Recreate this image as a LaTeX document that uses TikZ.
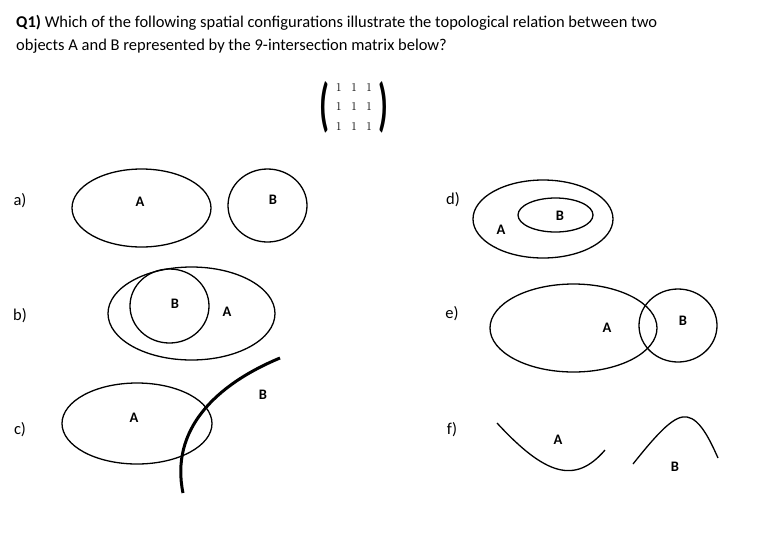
\documentclass[tikz,border=0pt]{standalone}
\usepackage{fontspec}
\usepackage{graphicx}
\setmainfont{Carlito}
\tikzset{
  region/.style={line width=1.3pt},
  tag/.style={font=\fontsize{16.5}{19}\selectfont},
  objname/.style={font=\fontsize{14.5}{16}\selectfont\bfseries},
}
\newcommand{\bigparen}[1]{\vcenter{\hbox{\fontsize{14.5}{16}\selectfont\bfseries\scalebox{2.2}[4]{#1}}}}
\begin{document}
\begin{tikzpicture}[x=1pt,y=-1pt]
  \useasboundingbox (0,0) rectangle (757,547);

  \node [anchor=base west,align=left,inner sep=0pt,
    font=\fontsize{16.5}{23}\selectfont] (question) at (16,50.7)
    {\textbf{Q1)} Which of the following spatial configurations illustrate the topological relation between two\\
     objects A and B represented by the 9-intersection matrix below?};

  \node [inner sep=0pt] (matrix) at (354,107)
    {\fontsize{12}{19.5}\selectfont\setlength{\arraycolsep}{4.6pt}%
     $\bigparen{(}\hspace{2pt}\begin{array}{ccc}1&1&1\\1&1&1\\1&1&1\end{array}\hspace{2pt}\bigparen{)}$};

  % a) disjoint
  \node [tag] (tag a) at (20,201) {a)};
  \draw [region] (141.5,208) ellipse [x radius=69.5, y radius=39];
  \draw [region] (267.5,205.5) ellipse [x radius=39.5, y radius=36.5];
  \node [objname] (a A) at (140,202) {A};
  \node [objname] (a B) at (273,200) {B};

  % b) inside, touching
  \node [tag] (tag b) at (20,316) {b)};
  \draw [region] (191.5,313.5) ellipse [x radius=83.5, y radius=46.5];
  \draw [region] (169.5,306) ellipse [x radius=39.5, y radius=37];
  \node [objname] (b B) at (175,304) {B};
  \node [objname] (b A) at (227,312) {A};

  % c) region and line
  \node [tag] (tag c) at (20,430) {c)};
  \draw [region] (137,423.5) ellipse [x radius=75, y radius=40.5];
  \draw [line width=3pt]
    (280,358)
    .. controls (215,385) and (170,430) .. (183,493)
  ;
  \node [objname] (c A) at (134,418) {A};
  \node [objname] (c B) at (263,395) {B};

  % d) contains
  \node [tag] (tag d) at (453,200) {d)};
  \draw [region] (543,219) ellipse [x radius=70, y radius=39];
  \draw [region] (555.5,215) ellipse [x radius=37.5, y radius=17];
  \node [objname] (d B) at (560,216) {B};
  \node [objname] (d A) at (501,230) {A};

  % e) overlap
  \node [tag] (tag e) at (452,314) {e)};
  \draw [region] (573.5,328) ellipse [x radius=83.5, y radius=44];
  \draw [region] (678,325.5) ellipse [x radius=39, y radius=36.5];
  \node [objname] (e A) at (607,328) {A};
  \node [objname] (e B) at (683,321) {B};

  % f) two lines
  \node [tag] (tag f) at (452,430) {f)};
  \draw [region]
    (497,423)
    .. controls (545,475) and (575,485) .. (605,450)
  ;
  \draw [region]
    (633,464)
    .. controls (660,430) and (675,415) .. (687,417)
    .. controls (700,419) and (710,440) .. (718,458)
  ;
  \node [objname] (f A) at (558,440) {A};
  \node [objname] (f B) at (675,467) {B};
\end{tikzpicture}
\end{document}
